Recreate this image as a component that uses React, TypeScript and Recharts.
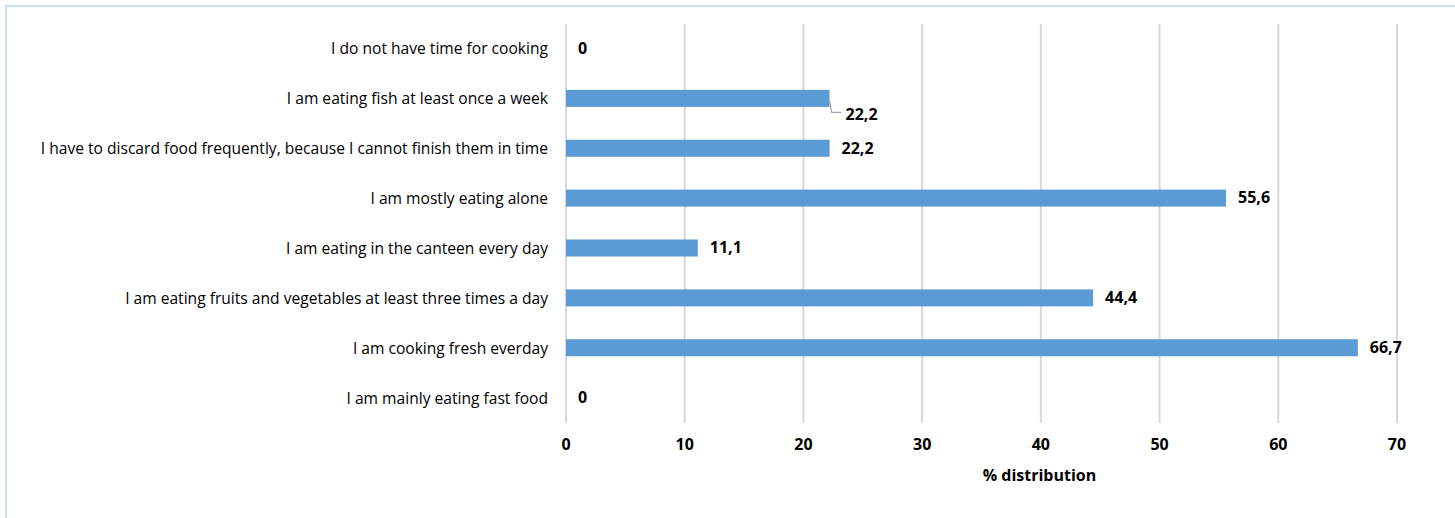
import React from 'react'
import { BarChart, Bar, XAxis, YAxis, CartesianGrid } from 'recharts'

// statements, top row first
const statements = [
  'I do not have time for cooking',
  'I am eating fish at least once a week',
  'I have to discard food frequently, because I cannot finish them in time',
  'I am mostly eating alone',
  'I am eating in the canteen every day',
  'I am eating fruits and vegetables at least three times a day',
  'I am cooking fresh everday',
  'I am mainly eating fast food',
]
const shares = [0, 22.2, 22.2, 55.6, 11.1, 44.4, 66.7, 0]
const xTicks = [0, 10, 20, 30, 40, 50, 60, 70]
// this row's label sits lower, joined to its bar by a leader line
const shiftedRow = 'I am eating fish at least once a week'

const FONT = '"Open Sans", sans-serif'
const BAR = '#5b9bd5'
const GRID = '#d9d9d9'

const fmt = (n: number) => String(n).replace('.', ',')

const data = statements.map((s, i) => ({ statement: s, share: shares[i] }))

// bar plus its value label; zero rows keep only the label
function BarWithLabel(props: any) {
  const { x, y, width, height, payload } = props
  const value = payload.share
  const barW = value > 0 ? width : 0
  const endX = x + barW
  const cy = y + height / 2
  const shifted = payload.statement === shiftedRow
  return (
    <g>
      {barW > 0 && <rect x={x} y={y} width={barW} height={height} fill={BAR} />}
      {shifted && (
        <polyline
          points={`${endX},${cy + 2} ${endX + 2},${cy + 14} ${endX + 12},${cy + 14}`}
          fill="none"
          stroke="#a6a6a6"
          strokeWidth={1.2}
        />
      )}
      <text
        x={shifted ? endX + 16 : endX + 12}
        y={shifted ? cy + 17 : cy + 1}
        dominantBaseline="middle"
        fontFamily={FONT}
        fontSize={16}
        fontWeight={700}
        fill="#000"
      >
        {fmt(value)}
      </text>
    </g>
  )
}

export default function App() {
  return (
    <div
      style={{
        position: 'absolute',
        left: 5,
        top: 5,
        width: 1470,
        height: 530,
        borderLeft: '2px solid #c7e0f4',
        borderTop: '2px solid #c7e0f4',
        background: '#fff',
        fontFamily: FONT,
      }}
    >
      <BarChart
        layout="vertical"
        width={1450}
        height={513}
        data={data}
        margin={{ top: 17, right: 60, bottom: 27, left: 0 }}
        barSize={17}
      >
        <CartesianGrid horizontal={false} stroke={GRID} strokeWidth={2} />
        <XAxis
          type="number"
          domain={[0, 70]}
          ticks={xTicks}
          axisLine={false}
          tickLine={false}
          tickMargin={10}
          height={70}
          tick={{ fontFamily: FONT, fontSize: 16, fontWeight: 700, fill: '#000' }}
          label={{
            value: '% distribution',
            position: 'insideBottom',
            dx: 58,
            offset: 12,
            style: { fontFamily: FONT, fontSize: 16, fontWeight: 700, fill: '#000' },
          }}
        />
        <YAxis
          type="category"
          dataKey="statement"
          width={559}
          axisLine={false}
          tickLine={false}
          tickMargin={12}
          interval={0}
          tick={{ fontFamily: FONT, fontSize: 15.6, fill: '#000' }}
        />
        <Bar
          dataKey="share"
          fill={BAR}
          minPointSize={1}
          shape={<BarWithLabel />}
          isAnimationActive={false}
        />
      </BarChart>
    </div>
  )
}
